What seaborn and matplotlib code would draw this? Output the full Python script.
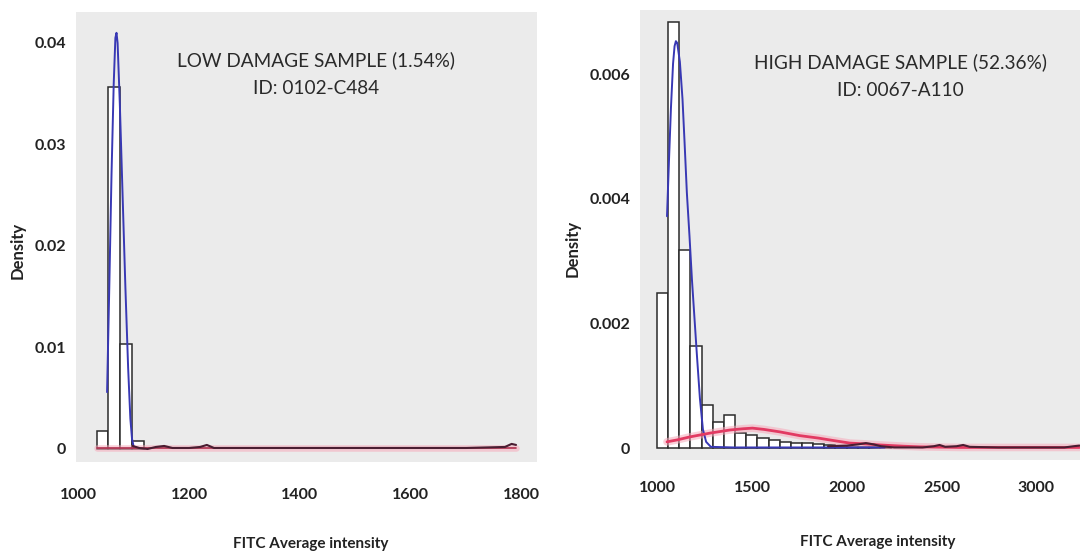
import matplotlib
matplotlib.use("Agg")
import matplotlib.pyplot as plt
import seaborn as sns

# ---------------- low damage sample (ID 0102-C484) ----------------
low_bin_edges = [1033, 1054.5, 1076, 1097.5, 1119]
low_bin_density = [0.0018, 0.0357, 0.0103, 0.0008]

low_blue_x = [1052, 1056, 1060, 1064, 1067, 1069, 1071, 1075, 1080, 1085, 1090, 1094, 1097, 1100]
low_blue_y = [0.0056, 0.016, 0.027, 0.036, 0.0405, 0.041, 0.040, 0.034, 0.025, 0.016,
              0.008, 0.003, 0.001, 0.0002]

low_red_x = [1033, 1200, 1400, 1600, 1790]
low_red_y = [0.0001, 0.0001, 0.0001, 0.0001, 0.0001]

low_dark_x = [1098, 1110, 1125, 1140, 1155, 1170, 1200, 1220, 1232, 1245, 1300,
              1500, 1700, 1770, 1782, 1790]
low_dark_y = [0.0003, 0.0001, 0.0, 0.0002, 0.0003, 0.0001, 0.0001, 0.0002, 0.0004,
              0.0001, 0.0001, 0.0001, 0.0001, 0.0002, 0.0005, 0.0004]

low_xticks = [1000, 1200, 1400, 1600, 1800]
low_yticks = [0, 0.01, 0.02, 0.03, 0.04]
low_ytick_labels = ["0", "0.01", "0.02", "0.03", "0.04"]
low_title = "LOW DAMAGE SAMPLE (1.54%)"
low_id = "ID: 0102-C484"

# ---------------- high damage sample (ID 0067-A110) ----------------
high_bin_edges = [995, 1054, 1113, 1172, 1231, 1290, 1349, 1408, 1467, 1526, 1585,
                  1644, 1703, 1762, 1821, 1880, 1939, 1998, 2057, 2116, 2175, 2234]
high_bin_density = [0.00249, 0.00683, 0.00318, 0.00164, 0.00069, 0.00042, 0.00053,
                    0.00024, 0.00021, 0.00016, 0.00013, 0.00010, 0.00008, 0.00008,
                    0.00006, 0.00005, 0.00003, 0.00002, 0.00002, 0.00001, 0.00001]

high_blue_x = [1048, 1058, 1069, 1080, 1088, 1095, 1102, 1116, 1130, 1141, 1153, 1167,
               1180, 1193, 1206, 1222, 1238, 1255, 1280, 1400, 1700, 2000, 2200]
high_blue_y = [0.00372, 0.00458, 0.00547, 0.00617, 0.00645, 0.00653, 0.0065, 0.0062,
               0.0056, 0.0049, 0.0041, 0.0034, 0.0027, 0.0021, 0.0015, 0.0008, 0.0003,
               0.0001, 0.00002, 0.00001, 0.00001, 0.00001, 0.00001]

high_red_x = [1048, 1100, 1170, 1275, 1380, 1450, 1500, 1560, 1645, 1750, 1850, 1910,
              2015, 2080, 2175, 2300, 2385, 2600, 2900, 3230]
high_red_y = [0.00010, 0.00013, 0.00018, 0.00024, 0.00029, 0.00031, 0.00032, 0.00030,
              0.00026, 0.00020, 0.00016, 0.00013, 0.00008, 0.00007, 0.00005, 0.00003,
              0.00002, 0.00001, 0.00001, 0.00001]

high_dark_x = [1900, 2000, 2060, 2100, 2140, 2180, 2250, 2400, 2460, 2490, 2520, 2580,
               2615, 2650, 2800, 3000, 3150, 3200, 3230]
high_dark_y = [0.00003, 0.00004, 0.00006, 0.00008, 0.00006, 0.00003, 0.00001, 0.00001,
               0.00003, 0.00005, 0.00002, 0.00003, 0.00005, 0.00002, 0.00001, 0.00001,
               0.00001, 0.00003, 0.00004]

high_xticks = [1000, 1500, 2000, 2500, 3000]
high_yticks = [0, 0.002, 0.004, 0.006]
high_ytick_labels = ["0", "0.002", "0.004", "0.006"]
high_title = "HIGH DAMAGE SAMPLE (52.36%)"
high_id = "ID: 0067-A110"

x_label = "FITC Average intensity"
y_label = "Density"

# ---------------- styling ----------------
sns.set_style("white")
plt.rcParams["font.family"] = ["Lato", "DejaVu Sans"]

PANEL_BG = "#ebebeb"
BAR_EDGE = "#2b2b2b"
BLUE = "#3838b4"
RED = "#e23a62"
RED_HALO = "#f6aabb"
DARK = "#4a1e32"
TEXT = "#222222"

fig = plt.figure(figsize=(10.91, 5.55), dpi=100)
ax_low = fig.add_axes([0.0697, 0.1676, 0.4226, 0.8108])
ax_high = fig.add_axes([0.5866, 0.1712, 0.4033, 0.8108])


def draw_panel(ax, edges, dens, blue_x, blue_y, red_x, red_y, dark_x, dark_y,
               red_width, red_color):
    centers = [(a + b) / 2 for a, b in zip(edges[:-1], edges[1:])]
    sns.histplot(x=centers, weights=dens, bins=edges, stat="count", ax=ax,
                 color="white", edgecolor=BAR_EDGE, linewidth=1.1, alpha=1.0)
    sns.lineplot(x=red_x, y=red_y, ax=ax, color=RED_HALO, linewidth=red_width + 3.5,
                 alpha=0.55)
    sns.lineplot(x=blue_x, y=blue_y, ax=ax, color=BLUE, linewidth=1.4)
    sns.lineplot(x=red_x, y=red_y, ax=ax, color=red_color, linewidth=red_width)
    sns.lineplot(x=dark_x, y=dark_y, ax=ax, color=DARK, linewidth=1.5)
    ax.set_facecolor(PANEL_BG)
    for s in ax.spines.values():
        s.set_visible(False)
    ax.grid(False)


draw_panel(ax_low, low_bin_edges, low_bin_density, low_blue_x, low_blue_y,
           low_red_x, low_red_y, low_dark_x, low_dark_y, red_width=1.2,
           red_color="#b0304f")
draw_panel(ax_high, high_bin_edges, high_bin_density, high_blue_x, high_blue_y,
           high_red_x, high_red_y, high_dark_x, high_dark_y, red_width=2.0,
           red_color=RED)

ax_low.set_xlim(996, 1828)
ax_low.set_ylim(-0.00128, 0.04305)
ax_high.set_xlim(905, 3233)
ax_high.set_ylim(-0.000191, 0.00703)

ax_low.set_xticks(low_xticks)
ax_low.set_xticklabels([str(v) for v in low_xticks])
ax_low.set_yticks(low_yticks)
ax_low.set_yticklabels(low_ytick_labels)
ax_high.set_xticks(high_xticks)
ax_high.set_xticklabels([str(v) for v in high_xticks])
ax_high.set_yticks(high_yticks)
ax_high.set_yticklabels(high_ytick_labels)

for ax, xpos, xpad in ((ax_low, 0.508, 19), (ax_high, 0.54, 15)):
    ax.tick_params(axis="both", length=0, labelsize=11.5, colors=TEXT)
    ax.tick_params(axis="x", pad=xpad)
    ax.tick_params(axis="y", pad=7)
    for lab in ax.get_xticklabels() + ax.get_yticklabels():
        lab.set_fontweight("bold")
    ax.set_xlabel(x_label, fontsize=11, fontweight="bold", color=TEXT)
    ax.xaxis.set_label_coords(xpos, -0.166)
    ax.set_ylabel(y_label, fontsize=12, fontweight="bold", color=TEXT)

ax_low.yaxis.set_label_coords(-0.11, 0.47)
ax_high.yaxis.set_label_coords(-0.135, 0.47)

ax_low.text(0.521, 0.893, low_title, transform=ax_low.transAxes, ha="center",
            va="center", fontsize=13.7, color="#2a2a2a")
ax_low.text(0.521, 0.831, low_id, transform=ax_low.transAxes, ha="center",
            va="center", fontsize=13.7, color="#2a2a2a")
ax_high.text(0.591, 0.884, high_title, transform=ax_high.transAxes, ha="center",
             va="center", fontsize=13.7, color="#2a2a2a")
ax_high.text(0.591, 0.822, high_id, transform=ax_high.transAxes, ha="center",
             va="center", fontsize=13.7, color="#2a2a2a")

fig.savefig("out.png", dpi=100, facecolor="white")
